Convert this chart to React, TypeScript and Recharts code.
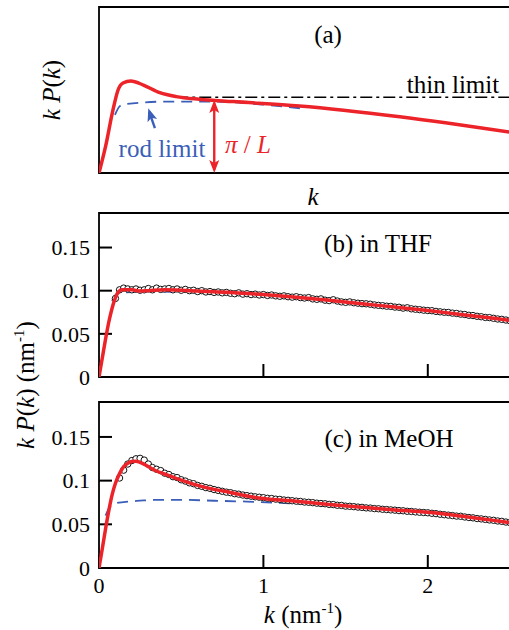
import React from "react";
import { ComposedChart, Line, Scatter, XAxis, YAxis, ReferenceArea, ReferenceLine, ReferenceDot } from "recharts";

const RED = "#ec2329";
const BLUE = "#3b5fb8";
const FONT = "'Liberation Serif', 'Times New Roman', serif";

const K_TICKS = [0, 1, 2];
const Y_TICKS = [0, 0.05, 0.1, 0.15];

// (a) schematic, arbitrary units
const FIT_A = [[0, 0], [0.04, 0.16], [0.085, 0.38], [0.116, 0.5], [0.146, 0.542], [0.193, 0.554], [0.27, 0.53], [0.37, 0.484], [0.47, 0.46], [0.61, 0.444], [0.815, 0.43], [1.22, 0.404], [1.83, 0.339], [2.5, 0.246]];
const ROD_A = [[0.097, 0.35], [0.128, 0.404], [0.168, 0.416], [0.41, 0.43], [0.695, 0.43], [1.02, 0.41], [1.26, 0.386]];
const THIN_A = [[0.47, 0.456], [2.5, 0.456]];
const PI_L = 0.701;

// (b) in THF
const THF_FIT = [[0, 0], [0.02, 0.022], [0.04, 0.044], [0.06, 0.064], [0.08, 0.08], [0.1, 0.092], [0.12, 0.099], [0.14, 0.101], [0.2, 0.101], [0.25, 0.0995], [0.3, 0.1], [0.4, 0.101], [0.5, 0.1005], [0.6, 0.0995], [0.8, 0.098], [1.0, 0.0955], [1.2, 0.0925], [1.4, 0.089], [1.6, 0.0848], [1.8, 0.081], [2.0, 0.077], [2.2, 0.0725], [2.4, 0.068], [2.5, 0.0655]];
const THF_ROD = [[0.08, 0.088], [0.1, 0.095], [0.15, 0.098], [0.3, 0.099], [0.6, 0.098], [1.0, 0.0945]];
const THF_DATA = [
  [0.1, 0.091], [0.125, 0.101], [0.15, 0.103], [0.175, 0.102], [0.2, 0.101], [0.225, 0.102], [0.25, 0.1005], [0.275, 0.101],
  [0.3, 0.1025], [0.325, 0.101], [0.35, 0.103], [0.375, 0.1015], [0.4, 0.102], [0.425, 0.1025], [0.45, 0.101], [0.475, 0.102],
  [0.5, 0.1005], [0.525, 0.1015], [0.55, 0.1], [0.575, 0.1005], [0.6, 0.099], [0.625, 0.1], [0.65, 0.0985], [0.675, 0.099],
  [0.7, 0.098], [0.725, 0.0985], [0.75, 0.0975], [0.775, 0.098], [0.8, 0.097], [0.825, 0.0965], [0.85, 0.0975], [0.875, 0.096],
  [0.9, 0.0965], [0.925, 0.0955], [0.95, 0.096], [0.975, 0.095], [1.0, 0.0955], [1.025, 0.0945], [1.05, 0.095], [1.075, 0.094],
  [1.1, 0.0935], [1.125, 0.094], [1.15, 0.093], [1.175, 0.0925], [1.2, 0.093], [1.225, 0.092], [1.25, 0.0915], [1.275, 0.092],
  [1.3, 0.0905], [1.325, 0.09], [1.35, 0.0905], [1.375, 0.089], [1.4, 0.0885], [1.425, 0.0895], [1.45, 0.088], [1.475, 0.087],
  [1.5, 0.0865], [1.525, 0.087], [1.55, 0.086], [1.575, 0.0855], [1.6, 0.085], [1.625, 0.0848], [1.65, 0.0843], [1.675, 0.0835],
  [1.7, 0.083], [1.725, 0.0826], [1.75, 0.082], [1.775, 0.0818], [1.8, 0.081], [1.825, 0.0808], [1.85, 0.0798], [1.875, 0.0802],
  [1.9, 0.079], [1.925, 0.0785], [1.95, 0.078], [1.975, 0.0774], [2.0, 0.077], [2.025, 0.0768], [2.05, 0.076], [2.075, 0.0755],
  [2.1, 0.075], [2.125, 0.0748], [2.15, 0.074], [2.175, 0.0736], [2.2, 0.0728], [2.225, 0.0724], [2.25, 0.0715], [2.275, 0.0712],
  [2.3, 0.0703], [2.325, 0.0698], [2.35, 0.069], [2.375, 0.0688], [2.4, 0.068], [2.425, 0.0672], [2.45, 0.0668], [2.475, 0.066],
  [2.5, 0.0652],
];

// (c) in MeOH
const MEOH_FIT = [[0, 0], [0.02, 0.022], [0.04, 0.045], [0.06, 0.066], [0.08, 0.084], [0.1, 0.097], [0.125, 0.108], [0.15, 0.116], [0.175, 0.12], [0.2, 0.122], [0.225, 0.1222], [0.25, 0.121], [0.3, 0.116], [0.35, 0.111], [0.4, 0.1075], [0.5, 0.1005], [0.6, 0.0945], [0.7, 0.09], [0.8, 0.0865], [0.9, 0.0825], [1.0, 0.0795], [1.2, 0.0765], [1.4, 0.0728], [1.6, 0.0695], [1.8, 0.0665], [2.0, 0.0638], [2.2, 0.0595], [2.4, 0.0545], [2.5, 0.052]];
const MEOH_ROD = [[0.04, 0.06], [0.06, 0.068], [0.08, 0.072], [0.1, 0.074], [0.15, 0.0755], [0.25, 0.077], [0.35, 0.078], [0.5, 0.078], [0.7, 0.077], [0.9, 0.076], [1.1, 0.0745], [1.28, 0.073]];
const MEOH_DATA = [
  [0.125, 0.103], [0.15, 0.112], [0.175, 0.119], [0.2, 0.123], [0.225, 0.125], [0.25, 0.1255], [0.275, 0.1235], [0.3, 0.119],
  [0.325, 0.115], [0.35, 0.113], [0.375, 0.1115], [0.4, 0.1085], [0.425, 0.107], [0.45, 0.1045], [0.475, 0.1035], [0.5, 0.101],
  [0.525, 0.0995], [0.55, 0.0975], [0.575, 0.0965], [0.6, 0.0945], [0.625, 0.0935], [0.65, 0.092], [0.675, 0.0912], [0.7, 0.0898],
  [0.725, 0.0888], [0.75, 0.0878], [0.775, 0.0868], [0.8, 0.0862], [0.825, 0.085], [0.85, 0.0845], [0.875, 0.0835], [0.9, 0.0828],
  [0.925, 0.0822], [0.95, 0.0815], [0.975, 0.081], [1.0, 0.0805], [1.025, 0.0798], [1.05, 0.0795], [1.075, 0.0788], [1.1, 0.0785],
  [1.125, 0.0778], [1.15, 0.0775], [1.175, 0.077], [1.2, 0.0765], [1.225, 0.0762], [1.25, 0.0755], [1.275, 0.0752], [1.3, 0.0748],
  [1.325, 0.0742], [1.35, 0.0738], [1.375, 0.0735], [1.4, 0.0728], [1.425, 0.0726], [1.45, 0.0718], [1.475, 0.0716], [1.5, 0.0708],
  [1.525, 0.0706], [1.55, 0.0702], [1.575, 0.0697], [1.6, 0.0694], [1.625, 0.0688], [1.65, 0.0686], [1.675, 0.068], [1.7, 0.0678],
  [1.725, 0.0672], [1.75, 0.0669], [1.775, 0.0665], [1.8, 0.0662], [1.825, 0.0657], [1.85, 0.0655], [1.875, 0.0649], [1.9, 0.0647],
  [1.925, 0.0642], [1.95, 0.0638], [1.975, 0.0635], [2.0, 0.0632], [2.025, 0.0626], [2.05, 0.0622], [2.075, 0.0615], [2.1, 0.061],
  [2.125, 0.0605], [2.15, 0.06], [2.175, 0.0594], [2.2, 0.0592], [2.225, 0.0584], [2.25, 0.0578], [2.275, 0.0574], [2.3, 0.0566],
  [2.325, 0.0562], [2.35, 0.0556], [2.375, 0.055], [2.4, 0.0546], [2.425, 0.0538], [2.45, 0.0534], [2.475, 0.0526], [2.5, 0.052],
];

const pts = (a: number[][]) => a.map(([k, v]) => ({ k, v }));

const circle = (p: any) => <circle cx={p.cx} cy={p.cy} r={3.2} fill="#fff" stroke="#111" strokeWidth={1} />;

const arrowHead = (color: string, angle: number) => (p: any) => (
  <path d={`M${p.cx},${p.cy} L${p.cx - 5},${p.cy + 13} L${p.cx},${p.cy + 10} L${p.cx + 5},${p.cy + 13} Z`} fill={color} transform={`rotate(${angle} ${p.cx} ${p.cy})`} />
);

function Txt({ x, y, size = 25, color = "#000", children, rotate }: any) {
  return (
    <div style={{ position: "absolute", left: x, top: y, transform: `translate(-50%, -50%)${rotate ? ` rotate(${rotate}deg)` : ""}`, fontSize: size, color, whiteSpace: "nowrap", lineHeight: 1 }}>
      {children}
    </div>
  );
}

const tickStyle = { fontSize: 22, fill: "#000", fontFamily: FONT };
const tickLineStyle = { stroke: "#000", strokeWidth: 2 };

function DataPanel({ top, fit, rod, data, labels, plotH, marginTop }: any) {
  const axisH = labels ? 40 : 20;
  return (
    <div style={{ position: "absolute", left: 0, top }}>
      <ComposedChart width={530} height={marginTop + plotH + axisH} margin={{ top: marginTop, right: 20, bottom: 0, left: 0 }}>
        {/* negative tickSize draws the tick marks inward */}
        <XAxis dataKey="k" type="number" domain={[0, 2.5]} ticks={K_TICKS} axisLine={false} tickLine={tickLineStyle} tickSize={-13} tickMargin={22} height={axisH}
          tick={tickStyle} tickFormatter={(v: number) => (labels ? String(v) : "")} allowDataOverflow />
        <YAxis type="number" domain={[0, 0.19]} ticks={Y_TICKS} width={99} axisLine={false} tickLine={tickLineStyle} tickSize={-13} tickMargin={22}
          tick={tickStyle} tickFormatter={(v: number) => String(v)} allowDataOverflow />
        <ReferenceArea x1={0} x2={2.5} y1={0} y2={0.19} fill="none" stroke="#000" strokeWidth={1.8} ifOverflow="visible" />
        <Line data={pts(rod)} dataKey="v" type="monotone" stroke={BLUE} strokeWidth={1.8} strokeDasharray="11 7" dot={false} isAnimationActive={false} zIndex={300} />
        <Scatter data={pts(data)} dataKey="v" shape={circle} isAnimationActive={false} zIndex={600} />
        <Line data={pts(fit)} dataKey="v" type="monotone" stroke={RED} strokeWidth={3.5} dot={false} isAnimationActive={false} zIndex={800} />
      </ComposedChart>
    </div>
  );
}

export default function App() {
  return (
    <div style={{ position: "absolute", left: 0, top: 0, width: 509, height: 630, overflow: "hidden", background: "#fff", fontFamily: FONT }}>
      {/* (a) schematic */}
      <div style={{ position: "absolute", left: 0, top: 0 }}>
        <ComposedChart width={530} height={200} margin={{ top: 7, right: 20, bottom: 27, left: 99 }}>
          <XAxis dataKey="k" type="number" domain={[0, 2.5]} hide allowDataOverflow />
          <YAxis type="number" domain={[0, 1]} hide allowDataOverflow />
          <ReferenceArea x1={0} x2={2.5} y1={0} y2={1} fill="none" stroke="#000" strokeWidth={1.8} ifOverflow="visible" />
          <Line data={pts(THIN_A)} dataKey="v" stroke="#000" strokeWidth={1.6} strokeDasharray="12 4 3 4" dot={false} isAnimationActive={false} />
          <Line data={pts(ROD_A)} dataKey="v" type="monotone" stroke={BLUE} strokeWidth={1.8} strokeDasharray="11 7" dot={false} isAnimationActive={false} />
          <Line data={pts(FIT_A)} dataKey="v" type="monotone" stroke={RED} strokeWidth={3.5} dot={false} isAnimationActive={false} />
          <ReferenceLine segment={[{ x: PI_L, y: 0.02 }, { x: PI_L, y: 0.42 }]} stroke={RED} strokeWidth={2.4} />
          <ReferenceDot x={PI_L} y={0.44} shape={arrowHead(RED, 0)} />
          <ReferenceDot x={PI_L} y={0} shape={arrowHead(RED, 180)} />
          <ReferenceLine segment={[{ x: 0.34, y: 0.27 }, { x: 0.305, y: 0.37 }]} stroke={BLUE} strokeWidth={2.4} />
          <ReferenceDot x={0.3} y={0.39} shape={arrowHead(BLUE, -18)} />
        </ComposedChart>
      </div>
      <Txt x={328} y={34}>(a)</Txt>
      <Txt x={453} y={84}>thin limit</Txt>
      <Txt x={162} y={148} color={BLUE}>rod limit</Txt>
      <Txt x={248} y={144} color={RED}><i>π</i> / <i>L</i></Txt>
      <Txt x={51} y={90} rotate={-90}><i>k</i> <i>P</i>(<i>k</i>)</Txt>
      <Txt x={313} y={196}><i>k</i></Txt>

      <DataPanel top={200} fit={THF_FIT} rod={THF_ROD} data={THF_DATA} labels={false} plotH={164} marginTop={13} />
      <DataPanel top={395} fit={MEOH_FIT} rod={MEOH_ROD} data={MEOH_DATA} labels={true} plotH={173 - 7} marginTop={7} />

      <Txt x={378} y={243}>(b) in THF</Txt>
      <Txt x={389} y={438}>(c) in MeOH</Txt>
      <Txt x={25} y={385} rotate={-90}>
        <i>k</i> <i>P</i>(<i>k</i>) (nm<sup style={{ fontSize: "0.6em" }}>-1</sup>)
      </Txt>
      <Txt x={303} y={614}>
        <i>k</i> (nm<sup style={{ fontSize: "0.6em" }}>-1</sup>)
      </Txt>
    </div>
  );
}
